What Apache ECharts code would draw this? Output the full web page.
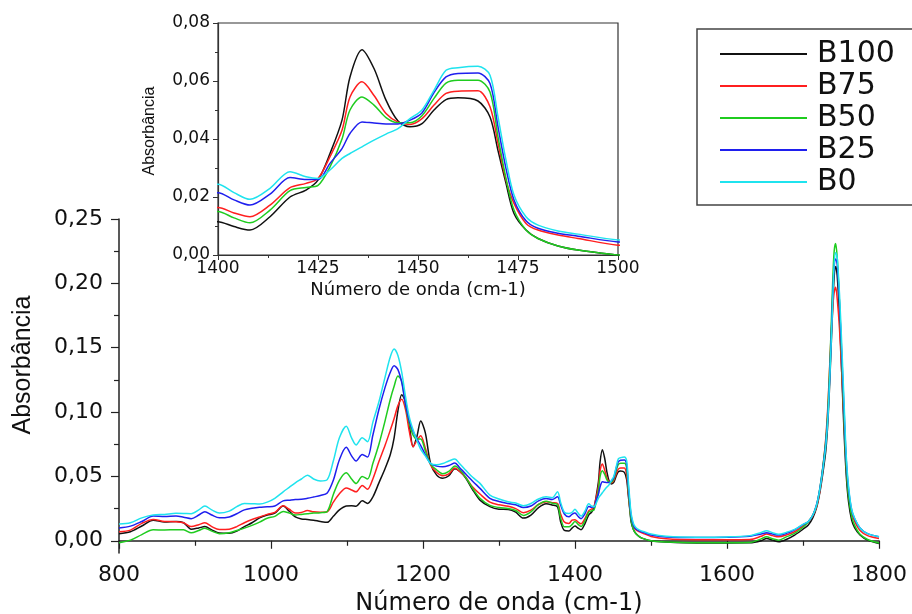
<!DOCTYPE html>
<html>
<head>
<meta charset="utf-8">
<script src="https://cdn.jsdelivr.net/npm/echarts@6/dist/echarts.min.js"></script>
<style>
html,body{margin:0;padding:0;background:#fff;}
#c{width:912px;height:614px;}
</style>
</head>
<body>
<div id="c"></div>
<script>
const seriesNames = ['B100', 'B75', 'B50', 'B25', 'B0'];
const wavenumbers = [800,815,830,845,860,875,885,895,905,913,922,932,945,955,965,975,985,995,1005,1016,1024,1032,1040,1048,1056,1065,1074,1082,1090,1099,1106,1112,1120,1127,1134,1142,1150,1157,1162,1167,1172,1177,1182,1187,1192,1197,1203,1210,1218,1226,1234,1242,1248,1256,1265,1275,1288,1300,1312,1322,1332,1342,1352,1362,1370,1377,1381,1386,1392,1396,1400,1404,1408,1413,1418,1422,1425,1428,1431,1433,1436,1439,1442,1445,1448,1451,1454,1457,1460,1465,1468,1470,1472,1474,1477,1480,1485,1490,1500,1520,1560,1600,1630,1645,1652,1660,1668,1678,1689,1700,1707,1713,1718,1722,1726,1730,1733,1736,1739,1741,1743,1745,1748,1751,1754,1757,1760,1764,1768,1775,1785,1800];

const b100 = [0.0055,0.0070,0.0115,0.0160,0.0145,0.0150,0.0140,0.0090,0.0100,0.0110,0.0085,0.0060,0.0058,0.0075,0.0110,0.0140,0.0178,0.0200,0.0215,0.0270,0.0230,0.0185,0.0170,0.0166,0.0160,0.0150,0.0143,0.0190,0.0240,0.0270,0.0272,0.0268,0.0310,0.0290,0.0340,0.0450,0.0560,0.0670,0.0800,0.1010,0.1135,0.1080,0.0900,0.0730,0.0810,0.0930,0.0840,0.0600,0.0510,0.0485,0.0505,0.0560,0.0540,0.0490,0.0400,0.0316,0.0265,0.0245,0.0243,0.0222,0.0176,0.0200,0.0258,0.0288,0.0278,0.0264,0.0150,0.0080,0.0076,0.0098,0.0115,0.0098,0.0086,0.0132,0.0200,0.0224,0.0258,0.0350,0.0465,0.0614,0.0708,0.0643,0.0534,0.0462,0.0442,0.0453,0.0500,0.0536,0.0542,0.0531,0.0476,0.0360,0.0247,0.0143,0.0086,0.0057,0.0031,0.0017,0.0000,-0.0010,-0.0017,-0.0017,-0.0016,0.0000,0.0018,0.0005,-0.0008,0.0010,0.0044,0.0090,0.0122,0.0180,0.0260,0.0370,0.0520,0.0700,0.0950,0.1350,0.1800,0.2050,0.2130,0.2060,0.1750,0.1300,0.0850,0.0500,0.0300,0.0160,0.0100,0.0045,0.0005,-0.0021];

const b75 = [0.0070,0.0083,0.0135,0.0166,0.0150,0.0148,0.0140,0.0110,0.0125,0.0140,0.0110,0.0088,0.0090,0.0110,0.0140,0.0165,0.0185,0.0205,0.0220,0.0272,0.0245,0.0215,0.0220,0.0235,0.0225,0.0222,0.0226,0.0300,0.0365,0.0410,0.0395,0.0380,0.0430,0.0400,0.0480,0.0615,0.0740,0.0860,0.0950,0.1050,0.1100,0.1020,0.0850,0.0730,0.0780,0.0815,0.0720,0.0590,0.0530,0.0505,0.0520,0.0565,0.0540,0.0495,0.0420,0.0363,0.0300,0.0280,0.0269,0.0250,0.0218,0.0238,0.0282,0.0303,0.0296,0.0290,0.0210,0.0145,0.0135,0.0160,0.0164,0.0145,0.0132,0.0172,0.0232,0.0247,0.0264,0.0339,0.0430,0.0545,0.0597,0.0550,0.0488,0.0458,0.0450,0.0470,0.0517,0.0557,0.0565,0.0566,0.0511,0.0385,0.0258,0.0178,0.0109,0.0086,0.0069,0.0057,0.0034,0.0015,0.0008,0.0008,0.0010,0.0035,0.0052,0.0040,0.0031,0.0045,0.0070,0.0115,0.0148,0.0195,0.0270,0.0380,0.0560,0.0800,0.1080,0.1480,0.1800,0.1930,0.1970,0.1880,0.1650,0.1300,0.0930,0.0580,0.0360,0.0215,0.0150,0.0080,0.0040,0.0018];

const b50 = [-0.0015,0.0005,0.0048,0.0085,0.0084,0.0086,0.0085,0.0062,0.0080,0.0098,0.0075,0.0055,0.0062,0.0080,0.0098,0.0120,0.0145,0.0175,0.0190,0.0228,0.0215,0.0200,0.0205,0.0210,0.0215,0.0218,0.0228,0.0360,0.0470,0.0528,0.0480,0.0445,0.0500,0.0480,0.0600,0.0750,0.0930,0.1100,0.1200,0.1280,0.1240,0.1050,0.0910,0.0820,0.0790,0.0790,0.0700,0.0595,0.0550,0.0520,0.0540,0.0580,0.0555,0.0495,0.0410,0.0330,0.0275,0.0258,0.0251,0.0235,0.0197,0.0225,0.0282,0.0308,0.0292,0.0280,0.0180,0.0108,0.0108,0.0125,0.0150,0.0128,0.0111,0.0155,0.0222,0.0233,0.0240,0.0304,0.0400,0.0500,0.0545,0.0517,0.0474,0.0456,0.0456,0.0480,0.0540,0.0593,0.0603,0.0603,0.0562,0.0407,0.0264,0.0155,0.0086,0.0057,0.0031,0.0017,0.0000,-0.0010,-0.0016,-0.0016,-0.0014,0.0015,0.0031,0.0015,0.0005,0.0030,0.0057,0.0105,0.0148,0.0200,0.0280,0.0400,0.0570,0.0780,0.1050,0.1480,0.2000,0.2250,0.2310,0.2200,0.1850,0.1400,0.0950,0.0560,0.0340,0.0190,0.0120,0.0050,0.0010,-0.0018];

const b25 = [0.0100,0.0114,0.0150,0.0192,0.0188,0.0192,0.0183,0.0172,0.0200,0.0226,0.0200,0.0178,0.0185,0.0210,0.0240,0.0252,0.0260,0.0264,0.0270,0.0310,0.0315,0.0320,0.0322,0.0330,0.0340,0.0352,0.0372,0.0470,0.0630,0.0726,0.0660,0.0620,0.0670,0.0650,0.0820,0.1020,0.1190,0.1310,0.1360,0.1330,0.1230,0.1060,0.0930,0.0850,0.0790,0.0740,0.0670,0.0600,0.0580,0.0575,0.0585,0.0605,0.0570,0.0520,0.0465,0.0407,0.0330,0.0305,0.0290,0.0280,0.0258,0.0270,0.0310,0.0328,0.0320,0.0342,0.0280,0.0208,0.0186,0.0205,0.0215,0.0190,0.0172,0.0210,0.0267,0.0260,0.0260,0.0316,0.0367,0.0419,0.0459,0.0455,0.0452,0.0452,0.0465,0.0490,0.0560,0.0614,0.0626,0.0628,0.0591,0.0442,0.0298,0.0190,0.0118,0.0092,0.0075,0.0065,0.0045,0.0030,0.0026,0.0028,0.0036,0.0052,0.0062,0.0052,0.0044,0.0058,0.0085,0.0125,0.0150,0.0200,0.0285,0.0400,0.0560,0.0760,0.1000,0.1400,0.1900,0.2130,0.2190,0.2150,0.1850,0.1450,0.1020,0.0620,0.0400,0.0240,0.0170,0.0100,0.0055,0.0031];

const b0 = [0.0130,0.0140,0.0178,0.0200,0.0205,0.0213,0.0212,0.0210,0.0240,0.0270,0.0240,0.0215,0.0230,0.0265,0.0290,0.0288,0.0285,0.0300,0.0330,0.0380,0.0415,0.0450,0.0480,0.0510,0.0480,0.0465,0.0475,0.0620,0.0800,0.0890,0.0800,0.0745,0.0800,0.0770,0.0920,0.1080,0.1270,0.1430,0.1490,0.1440,0.1310,0.1120,0.0960,0.0860,0.0780,0.0710,0.0660,0.0600,0.0590,0.0600,0.0620,0.0635,0.0600,0.0550,0.0495,0.0446,0.0355,0.0325,0.0303,0.0293,0.0272,0.0290,0.0325,0.0342,0.0335,0.0381,0.0300,0.0222,0.0212,0.0220,0.0244,0.0215,0.0192,0.0230,0.0287,0.0270,0.0264,0.0293,0.0333,0.0350,0.0373,0.0396,0.0417,0.0436,0.0470,0.0500,0.0568,0.0637,0.0646,0.0651,0.0620,0.0476,0.0327,0.0207,0.0132,0.0103,0.0083,0.0072,0.0052,0.0035,0.0028,0.0030,0.0040,0.0065,0.0078,0.0062,0.0050,0.0065,0.0088,0.0128,0.0150,0.0200,0.0280,0.0395,0.0550,0.0740,0.0980,0.1380,0.1850,0.2150,0.2240,0.2200,0.1920,0.1520,0.1080,0.0650,0.0420,0.0245,0.0175,0.0100,0.0055,0.0031];

const mainYTicks = [0, 0.05, 0.10, 0.15, 0.20, 0.25];
const mainYMinorTicks = [0.025, 0.075, 0.125, 0.175, 0.225];

const allValues = [b100, b75, b50, b25, b0];
const colors = ['#111111', '#ff1f1f', '#1fcc1f', '#1f1fee', '#1fe3ee'];
const FONT = '"DejaVu Sans", "Liberation Sans", sans-serif';
const fmt = v => v.toFixed(2).replace('.', ',');
const fmtX = v => String(v);

function pairs(vals) {
  return wavenumbers.map((w, i) => [w, vals[i]]);
}

const series = [];
allValues.forEach((vals, i) => {
  series.push({
    name: seriesNames[i], type: 'line', xAxisIndex: 0, yAxisIndex: 0,
    data: pairs(vals), showSymbol: false, symbol: 'none', smooth: 0.3,
    lineStyle: { color: colors[i], width: 1.5 }, itemStyle: { color: colors[i] }, z: 2 + i
  });
});
allValues.forEach((vals, i) => {
  series.push({
    name: seriesNames[i], type: 'line', xAxisIndex: 1, yAxisIndex: 2,
    data: pairs(vals), showSymbol: false, symbol: 'none', smooth: 0.3, clip: true,
    lineStyle: { color: colors[i], width: 1.5 }, itemStyle: { color: colors[i] }, z: 2 + i
  });
});

const chart = echarts.init(document.getElementById('c'), null, { renderer: 'canvas' });
chart.setOption({
  animation: false,
  backgroundColor: '#ffffff',
  grid: [
    { left: 119, right: 33, top: 219, bottom: 61, outerBoundsMode: 'none', containLabel: false },
    { left: 218, right: 294, top: 23, bottom: 359, outerBoundsMode: 'none', containLabel: false, show: true, borderColor: '#333', borderWidth: 1.2, backgroundColor: 'transparent' }
  ],
  legend: {
    data: seriesNames,
    orient: 'vertical',
    left: 697, top: 29,
    padding: [10, 40, 8, 23],
    itemGap: 2,
    itemWidth: 87, itemHeight: 2,
    icon: 'rect',
    borderColor: '#444', borderWidth: 1.5,
    selectedMode: false,
    textStyle: { fontFamily: FONT, fontSize: 30, color: '#111', lineHeight: 28, padding: [0, 0, 0, 5] }
  },
  xAxis: [
    {
      gridIndex: 0, type: 'value', min: 800, max: 1800, interval: 200,
      axisLine: { lineStyle: { color: '#222', width: 1.5 } },
      axisTick: { length: 8, lineStyle: { color: '#222', width: 1.2 } },
      minorTick: { show: true, splitNumber: 2, length: 5, lineStyle: { color: '#222', width: 1.2 } },
      splitLine: { show: false },
      axisLabel: { fontFamily: FONT, fontSize: 22, color: '#111', margin: 11, formatter: fmtX },
      name: 'Número de onda (cm-1)', nameLocation: 'middle', nameGap: 39,
      nameTextStyle: { fontFamily: FONT, fontSize: 24, color: '#111' }
    },
    {
      gridIndex: 1, type: 'value', min: 1400, max: 1500, interval: 25,
      axisLine: { lineStyle: { color: '#333', width: 1.2 } },
      axisTick: { length: 5, lineStyle: { color: '#333' } },
      minorTick: { show: true, splitNumber: 2, length: 3, lineStyle: { color: '#333' } },
      splitLine: { show: false },
      axisLabel: { fontFamily: FONT, fontSize: 17, color: '#111', margin: 5, formatter: fmtX },
      name: 'Número de onda (cm-1)', nameLocation: 'middle', nameGap: 26,
      nameTextStyle: { fontFamily: FONT, fontSize: 18, color: '#111' }
    }
  ],
  yAxis: [
    {
      gridIndex: 0, type: 'value', min: -0.0095, max: 0.25, position: 'left',
      axisLine: { show: true, lineStyle: { color: '#222', width: 1.5 } },
      axisTick: { show: true, length: 8, customValues: mainYTicks, lineStyle: { color: '#222', width: 1.2 } },
      splitLine: { show: false },
      axisLabel: { fontFamily: FONT, fontSize: 22, color: '#111', margin: 16, customValues: mainYTicks, formatter: fmt }
    },
    {
      gridIndex: 0, type: 'value', min: -0.0095, max: 0.25, position: 'left',
      axisLine: { show: false },
      axisTick: { show: true, length: 5, customValues: mainYMinorTicks, lineStyle: { color: '#222', width: 1.2 } },
      splitLine: { show: false },
      axisLabel: { show: false }
    },
    {
      gridIndex: 1, type: 'value', min: 0, max: 0.08, interval: 0.02, position: 'left',
      axisLine: { show: true, lineStyle: { color: '#333', width: 1.2 } },
      axisTick: { show: true, length: 5, lineStyle: { color: '#333' } },
      minorTick: { show: true, splitNumber: 2, length: 3, lineStyle: { color: '#333' } },
      splitLine: { show: false },
      axisLabel: { fontFamily: FONT, fontSize: 17, color: '#111', margin: 8, formatter: fmt }
    }
  ],
  graphic: [
    {
      type: 'text', x: 23, y: 365, rotation: Math.PI / 2,
      style: { text: 'Absorbância', font: '25px "Liberation Sans Narrow", "Liberation Sans", sans-serif', fill: '#111', textAlign: 'center', textVerticalAlign: 'middle' }
    },
    {
      type: 'text', x: 150, y: 131, rotation: Math.PI / 2,
      style: { text: 'Absorbância', font: '16px "Liberation Sans Narrow", "Liberation Sans", sans-serif', fill: '#111', textAlign: 'center', textVerticalAlign: 'middle' }
    }
  ],
  series: series
});
</script>
</body>
</html>
